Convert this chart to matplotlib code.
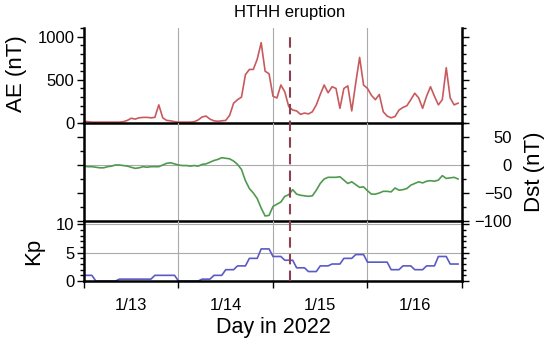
import numpy as np
import matplotlib
matplotlib.use('Agg')
import matplotlib.pyplot as plt
import matplotlib.transforms as mtransforms
from matplotlib.lines import Line2D
from matplotlib.ticker import MultipleLocator

plt.rcParams['font.family'] = ['Liberation Sans', 'DejaVu Sans']

# hourly values from 1/13 00 UT to 1/16 23 UT
hours = np.arange(96)

ae = [20, 15, 10, 10, 10, 10, 10, 10, 10, 10, 15, 30, 55, 45, 60, 65,
      65, 60, 65, 210, 60, 30, 25, 15,
      10, 10, 10, 10, 15, 35, 70, 80, 45, 25, 20, 25, 30, 90, 230, 270,
      300, 560, 620, 620, 740, 930, 600, 570,
      310, 290, 440, 360, 190, 150, 140, 100, 115, 105, 130, 210, 330, 440,
      350, 420, 400, 170, 400, 430, 140, 460, 760, 440,
      400, 320, 270, 330, 130, 80, 60, 75, 150, 180, 200, 270, 345, 290,
      170, 310, 420, 310, 210, 270, 640, 290, 210, 230]

dst = [-2, -3, -3, -4, -5, -5, -3, -2, 0, 0, -1, -2, -4, -6, -5, -3,
       -4, -3, -3, -3, 0, 3, 4, 2,
       0, -1, -1, -2, -1, -2, 1, 2, 5, 8, 10, 13, 12, 11, 7, 1,
       -8, -28, -42, -50, -60, -77, -91, -90,
       -74, -70, -66, -56, -53, -44, -52, -54, -55, -56, -55, -45, -33, -25,
       -22, -22, -22, -21, -27, -33, -30, -35, -40, -39,
       -46, -52, -52, -50, -47, -47, -48, -41, -45, -44, -42, -36, -33, -30,
       -32, -29, -28, -29, -27, -19, -24, -23, -22, -25]

# 3-hourly Kp
kp = [1, 0, 0, 0.33, 0.33, 0.33, 1, 1,
      0, 0, 0.33, 1, 2, 2.67, 4, 5.67,
      4.33, 3.67, 2.33, 1.67, 2.67, 3, 4, 4.67,
      3.33, 3.33, 2, 2.67, 2, 2.67, 4.33, 3]

eruption = 52.23  # 1/15 04:14 UT
day_edges = [0, 24, 48, 72, 96]
day_mid = [12, 36, 60, 84]
day_labels = ['1/13', '1/14', '1/15', '1/16']

c_ae = '#c85a5e'
c_dst = '#4e9a4e'
c_kp = '#5a5ac6'
c_erupt = '#8c4052'
c_grid = '#aaaaaa'

fig = plt.figure(figsize=(5.5, 3.45), dpi=100)
L, W = 0.1527, 0.6873
ax1 = fig.add_axes([L, 0.6435, W, 0.2753])
ax2 = fig.add_axes([L, 0.3594, W, 0.2841])
ax3 = fig.add_axes([L, 0.1855, W, 0.1739])

for ax in (ax1, ax2, ax3):
    ax.patch.set_visible(False)
    ax.set_xlim(0, 96)
    ax.spines['top'].set_visible(False)
    for s in ('left', 'right', 'bottom'):
        ax.spines[s].set_linewidth(1.8)
    for d in day_edges[1:-1]:
        ax.axvline(d, color=c_grid, lw=0.8, zorder=0)
    ax.tick_params(axis='y', which='both', direction='out', left=True,
                   right=True, width=1.0, labelsize=12, pad=2)
    ax.tick_params(axis='y', which='major', length=5)
    ax.tick_params(axis='y', which='minor', length=3)

for ax in (ax1, ax2):
    ax.set_xticks([])

# AE
ax1.plot(hours, ae, color=c_ae, lw=1.2)
ax1.set_ylim(0, 1100)
ax1.set_yticks([0, 500, 1000])
ax1.yaxis.set_minor_locator(MultipleLocator(100))
ax1.set_ylabel('AE (nT)', fontsize=16)
ax1.yaxis.set_label_coords(-0.15, 0.52)

# Dst
ax2.plot(hours, dst, color=c_dst, lw=1.2)
ax2.axhline(0, color=c_grid, lw=0.8, zorder=0)
ax2.set_ylim(-100, 75)
ax2.set_yticks([-100, -50, 0, 50])
ax2.set_yticklabels(['\u2212100', '\u221250', '0', '50'])
ax2.yaxis.set_minor_locator(MultipleLocator(25))
ax2.tick_params(axis='y', labelleft=False, labelright=True, pad=31)
for lbl in ax2.get_yticklabels():
    lbl.set_ha('right')
ax2.yaxis.set_label_position('right')
ax2.set_ylabel('Dst (nT)', fontsize=16)
ax2.yaxis.set_label_coords(1.165, 0.5)

# Kp
ax3.plot(hours, np.repeat(kp, 3), color=c_kp, lw=1.2)
for v in (5, 10):
    ax3.axhline(v, color=c_grid, lw=0.8, zorder=0)
ax3.set_ylim(0, 10.6)
ax3.set_yticks([0, 5, 10])
ax3.yaxis.set_minor_locator(MultipleLocator(1))
ax3.set_ylabel('Kp', fontsize=16)
ax3.yaxis.set_label_coords(-0.105, 0.5)

ax3.set_xticks(day_edges)
ax3.set_xticklabels([])
ax3.set_xticks(day_mid, minor=True)
ax3.set_xticklabels(day_labels, minor=True)
ax3.tick_params(axis='x', which='major', direction='out', length=5, width=1.0)
ax3.tick_params(axis='x', which='minor', length=0, labelsize=12, pad=12)
ax3.set_xlabel('Day in 2022', fontsize=15.5, labelpad=3)

# eruption marker across all panels
trans = mtransforms.blended_transform_factory(ax1.transData, fig.transFigure)
fig.add_artist(Line2D([eruption, eruption], [0.1855, 0.907], transform=trans,
                      color=c_erupt, lw=1.5, dashes=(5, 3)))
fig.text(eruption, 0.963, 'HTHH eruption', transform=trans, ha='center',
         va='center', fontsize=12)

plt.savefig('out.png', dpi=100)
